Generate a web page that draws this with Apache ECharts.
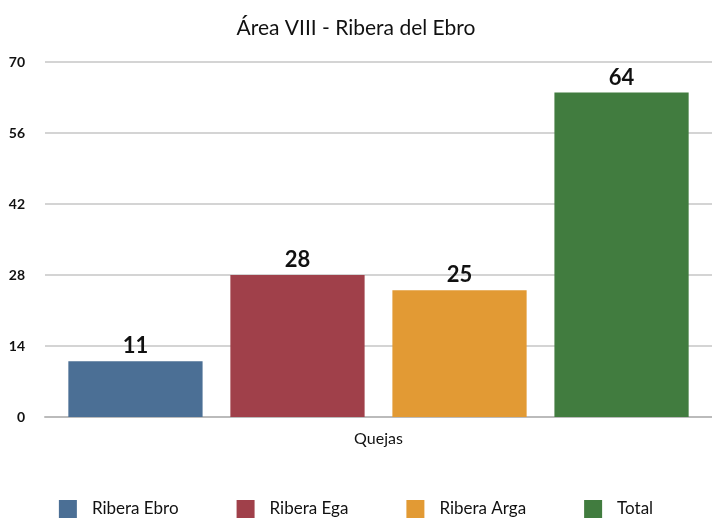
<!DOCTYPE html>
<html style="height: 100%">
<head>
    <meta charset="utf-8">
    <script src="https://cdn.jsdelivr.net/npm/echarts@6/dist/echarts.min.js"></script>
</head>
<body style="height: 100%; margin: 0; background: #fff">
<div id="container" style="width: 712px; height: 524px"></div>

<script type="text/javascript">
    var categories = ['Quejas'];
    var seriesNames = ['Ribera Ebro', 'Ribera Ega', 'Ribera Arga', 'Total'];
    var seriesValues = [[11], [28], [25], [64]];
    var colors = ['#4b6f95', '#a0404a', '#e29a34', '#417c3f'];
    var yTicks = [0, 14, 28, 42, 56, 70];

    var font = 'Lato, "Open Sans", sans-serif';
    var myChart = echarts.init(document.getElementById('container'));

    var series = [];
    for (var i = 0; i < seriesNames.length; i++) {
        series.push({
            name: seriesNames[i],
            type: 'bar',
            data: seriesValues[i],
            barGap: '20.7%',
            barCategoryGap: '7%',
            itemStyle: {color: colors[i]},
            label: {
                show: true,
                position: 'top',
                distance: 4,
                color: '#111',
                fontFamily: font,
                fontSize: 22,
                fontWeight: 'bold'
            }
        });
    }

    var option = {
        color: colors,
        animation: false,
        title: {
            text: 'Área VIII - Ribera del Ebro',
            left: 'center',
            top: 13,
            textStyle: {fontFamily: font, fontSize: 21, fontWeight: 'normal', color: '#111'}
        },
        grid: {left: 45, right: -3, top: 62, bottom: 107},
        legend: {
            bottom: 1,
            left: 'center',
            itemWidth: 18,
            itemHeight: 18,
            itemGap: 58,
            icon: 'rect',
            textStyle: {fontFamily: font, fontSize: 17, color: '#111', padding: [0, 0, 0, 10]},
            data: seriesNames
        },
        xAxis: {
            type: 'category',
            data: categories,
            axisTick: {show: false},
            axisLine: {lineStyle: {color: '#bbb', width: 2}},
            axisLabel: {fontFamily: font, fontSize: 16, color: '#111', margin: 14}
        },
        yAxis: {
            type: 'value',
            min: yTicks[0],
            max: yTicks[yTicks.length - 1],
            interval: 14,
            axisLine: {show: false},
            axisTick: {show: false},
            splitLine: {lineStyle: {color: '#d4d4d4', width: 2}},
            axisLabel: {fontFamily: font, fontSize: 14, fontWeight: 'bold', color: '#111', margin: 20}
        },
        series: series
    };

    myChart.setOption(option, true);
</script>
</body>
</html>
